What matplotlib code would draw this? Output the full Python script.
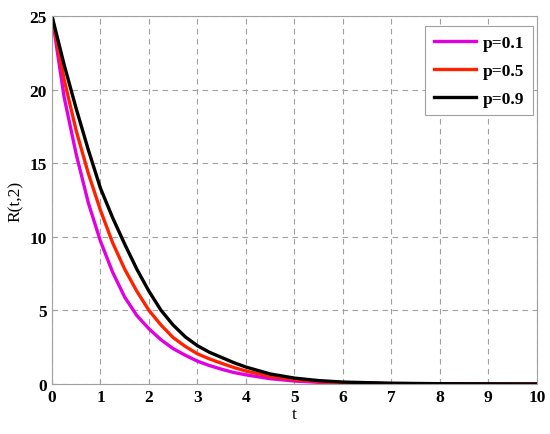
import matplotlib
matplotlib.use('Agg')
import matplotlib.pyplot as plt

plt.rcParams['font.family'] = ['Liberation Serif', 'DejaVu Serif']
plt.rcParams['font.weight'] = 'bold'

t = [0, 0.25, 0.5, 0.75, 1, 1.25, 1.5, 1.75, 2, 2.25, 2.5, 2.75, 3, 3.25, 3.5, 3.75, 4,
     4.5, 5, 5.5, 6, 7, 8, 9, 10]
r_p01 = [25, 19.5, 15.6, 12.3, 9.7, 7.6, 5.9, 4.65, 3.75, 3.0, 2.4, 1.95, 1.55, 1.25, 1.0, 0.78, 0.62,
         0.36, 0.2, 0.11, 0.06, 0.02, 0.01, 0, 0]
r_p05 = [25, 20.7, 17.2, 14.3, 11.8, 9.6, 7.8, 6.3, 5.0, 4.0, 3.15, 2.55, 2.05, 1.7, 1.4, 1.12, 0.88,
         0.52, 0.3, 0.17, 0.09, 0.03, 0.01, 0, 0]
r_p09 = [25, 21.7, 18.7, 15.9, 13.3, 11.3, 9.5, 7.8, 6.3, 5.0, 4.0, 3.2, 2.6, 2.15, 1.8, 1.45, 1.15,
         0.68, 0.4, 0.23, 0.13, 0.05, 0.02, 0.01, 0]
labels = ['p=0.1', 'p=0.5', 'p=0.9']

fig = plt.figure(figsize=(5.5, 4.35), dpi=100)
ax = fig.add_axes([0.0945, 0.115, 0.8815, 0.846])

ax.plot(t, r_p01, color='#e000e0', lw=2.4, label=labels[0])
ax.plot(t, r_p05, color='#ff2200', lw=2.4, label=labels[1])
ax.plot(t, r_p09, color='black', lw=2.4, label=labels[2])

ax.set_xlim(0, 10)
ax.set_ylim(0, 25)
ax.set_xticks(range(0, 11))
ax.set_yticks(range(0, 26, 5))
ax.grid(True, linestyle=(0, (5, 4)), color='#a0a0a0', lw=0.8)
for s in ax.spines.values():
    s.set_color('#a0a0a0')
ax.tick_params(axis='both', direction='in', length=3, color='#a0a0a0', labelsize=12.5)
ax.set_xlabel('t', fontsize=12.5, labelpad=1)
ax.set_ylabel('R(t,2)', fontsize=12.5, labelpad=4)

leg = ax.legend(loc='upper right', fontsize=12.5, handlelength=2.4, handletextpad=0.4,
                fancybox=False, framealpha=1, edgecolor='#a0a0a0', borderpad=0.5,
                labelspacing=0.68, borderaxespad=0, bbox_to_anchor=(0.992, 0.973))
leg.get_frame().set_linewidth(0.8)

fig.savefig('out.png', dpi=100)
